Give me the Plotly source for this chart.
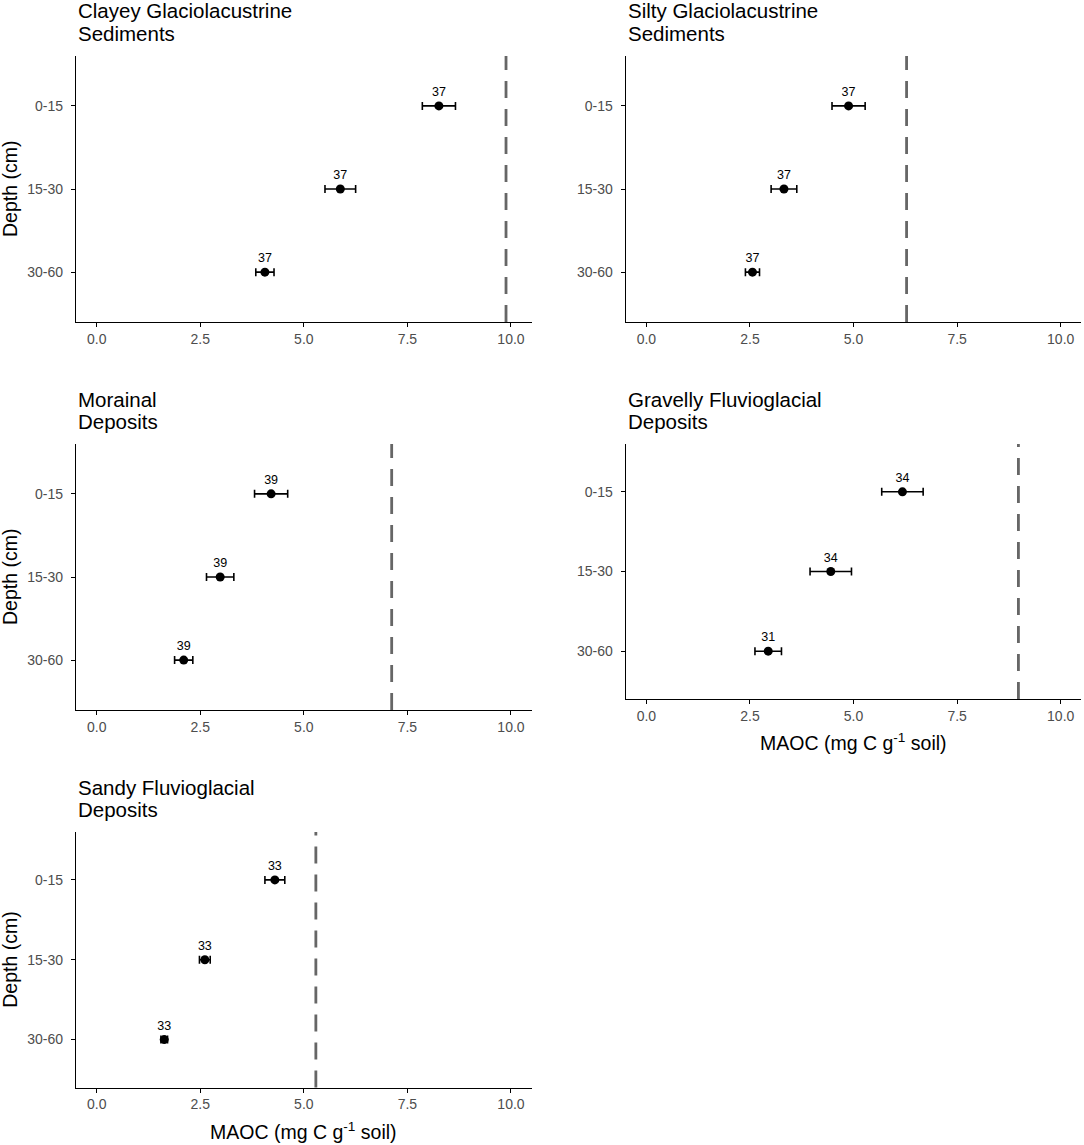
import plotly.graph_objects as go

# ------------------------------------------------------------------
# Data
# ------------------------------------------------------------------
DEPTHS = ["0-15", "15-30", "30-60"]

TITLES = [
    ["Clayey Glaciolacustrine", "Sediments"],
    ["Silty Glaciolacustrine", "Sediments"],
    ["Morainal", "Deposits"],
    ["Gravelly Fluvioglacial", "Deposits"],
    ["Sandy Fluvioglacial", "Deposits"],
]

MAOC_MEAN = [
    [8.26, 5.88, 4.06],
    [4.88, 3.32, 2.56],
    [4.21, 2.98, 2.10],
    [6.18, 4.45, 2.94],
    [4.30, 2.61, 1.63],
]

MAOC_SE = [
    [0.40, 0.37, 0.22],
    [0.40, 0.31, 0.17],
    [0.40, 0.33, 0.22],
    [0.50, 0.50, 0.32],
    [0.24, 0.13, 0.08],
]

N_SAMPLES = [
    [37, 37, 37],
    [37, 37, 37],
    [39, 39, 39],
    [34, 34, 31],
    [33, 33, 33],
]

# saturation limit (dashed line)
MAOC_MAX = [9.88, 6.28, 7.12, 8.98, 5.29]

X_TICKS = [0, 2.5, 5, 7.5, 10]
X_TICK_TEXT = ["0.0", "2.5", "5.0", "7.5", "10.0"]

# ------------------------------------------------------------------
# Layout (pixels in a 1084 x 1145 page)
# ------------------------------------------------------------------
W, H = 1084, 1145
FONT = "Liberation Sans, Arial, sans-serif"

# (left, right, top, bottom) of each panel's axes box
BOXES = [
    (76, 531.7, 56, 322),
    (625.7, 1081.4, 56, 322),
    (76, 531.7, 444, 710),
    (625.7, 1081.4, 444, 699),
    (76, 531.7, 832, 1087.5),
]
Y_TITLE_PANELS = [0, 2, 4]
X_TITLE_PANELS = [3, 4]

X_LABEL = "MAOC (mg C g<sup>-1</sup> soil)"
Y_LABEL = "Depth (cm)"

fig = go.Figure()
annotations = []
shapes = []

for i, (l, r, t, b) in enumerate(BOXES):
    sfx = "" if i == 0 else str(i + 1)
    xd = [l / W, r / W]
    yd = [1 - b / H, 1 - t / H]

    fig.add_trace(go.Scatter(
        x=MAOC_MEAN[i], y=DEPTHS,
        mode="markers+text",
        text=[str(n) for n in N_SAMPLES[i]],
        textposition="top center",
        textfont=dict(size=12.5, color="black", family=FONT),
        marker=dict(color="black", size=9),
        error_x=dict(type="data", array=MAOC_SE[i], color="black",
                     thickness=1.6, width=4),
        xaxis="x" + sfx, yaxis="y" + sfx,
        cliponaxis=False, showlegend=False,
    ))

    shapes.append(dict(
        type="line", xref="x" + sfx, yref="y" + sfx + " domain",
        x0=MAOC_MAX[i], x1=MAOC_MAX[i], y0=0, y1=1,
        line=dict(color="#666666", width=2.8, dash="17px,11px"),
    ))

    axis_common = dict(
        showline=True, linecolor="black", linewidth=1.3,
        ticks="outside", ticklen=4, tickwidth=1.2, tickcolor="black",
        tickfont=dict(size=14, color="#4D4D4D", family=FONT),
        showgrid=False, zeroline=False, fixedrange=True,
    )
    fig.layout["xaxis" + sfx] = dict(
        domain=xd, anchor="y" + sfx, range=[-0.5, 10.5],
        tickmode="array", tickvals=X_TICKS, ticktext=X_TICK_TEXT,
        **axis_common,
    )
    fig.layout["yaxis" + sfx] = dict(
        domain=yd, anchor="x" + sfx, type="category",
        categoryorder="array", categoryarray=DEPTHS,
        range=[2.6, -0.6], ticklabelstandoff=5,
        **axis_common,
    )

    # two-line panel title, left aligned with the y axis
    for k, line in enumerate(TITLES[i]):
        annotations.append(dict(
            text=line, xref="paper", yref="paper",
            x=l / W, y=1 - (t - 45 + 22.5 * k) / H,
            xanchor="left", yanchor="middle", showarrow=False,
            font=dict(size=20.5, color="black", family=FONT),
        ))

    if i in Y_TITLE_PANELS:
        annotations.append(dict(
            text=Y_LABEL, xref="paper", yref="paper",
            x=10 / W, y=1 - (t + b) / 2 / H, textangle=-90,
            xanchor="center", yanchor="middle", showarrow=False,
            font=dict(size=19.5, color="black", family=FONT),
        ))
    if i in X_TITLE_PANELS:
        annotations.append(dict(
            text=X_LABEL, xref="paper", yref="paper",
            x=(l + r) / 2 / W, y=1 - (b + 43) / H,
            xanchor="center", yanchor="middle", showarrow=False,
            font=dict(size=19.5, color="black", family=FONT),
        ))

fig.update_layout(
    width=W, height=H,
    margin=dict(l=0, r=0, t=0, b=0),
    plot_bgcolor="white", paper_bgcolor="white",
    font=dict(family=FONT, color="black"),
    annotations=annotations,
    shapes=shapes,
    showlegend=False,
)

# the page body has an 8px default margin; drop it so the figure fills the window
fig.write_html("out.html",
               config={"displayModeBar": False},
               post_script="document.body.style.margin='0';"
                           "document.body.style.overflow='hidden';")
